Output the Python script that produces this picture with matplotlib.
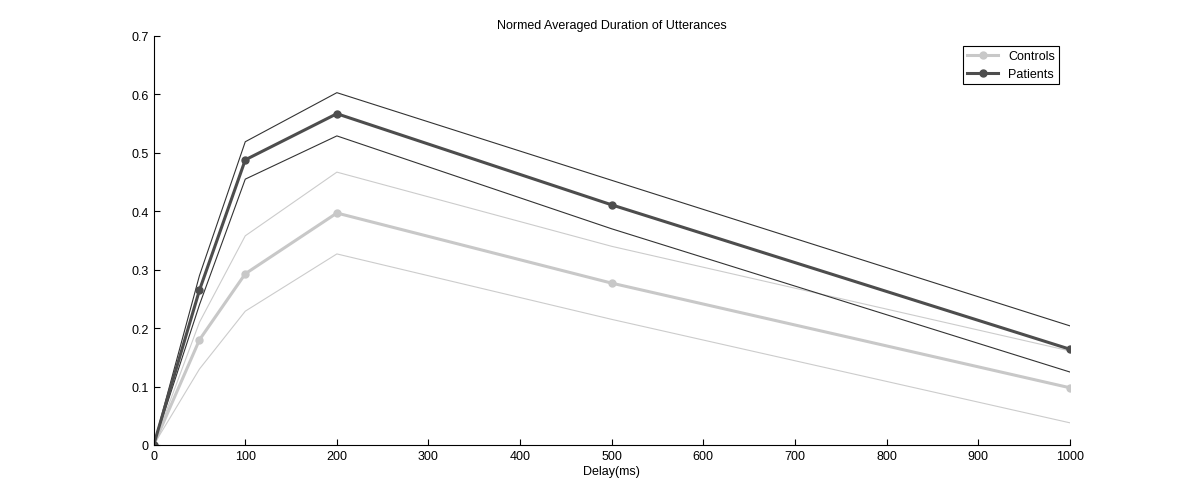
import numpy as np
import matplotlib
matplotlib.use("Agg")
import matplotlib.pyplot as plt

delay = [0, 50, 100, 200, 500, 1000]
controls = [0, 0.18, 0.293, 0.397, 0.277, 0.098]
controls_hi = [0, 0.21, 0.358, 0.467, 0.34, 0.161]
controls_lo = [0, 0.13, 0.229, 0.327, 0.215, 0.038]
patients = [0, 0.265, 0.488, 0.567, 0.411, 0.164]
patients_hi = [0, 0.29, 0.519, 0.603, 0.453, 0.204]
patients_lo = [0, 0.24, 0.455, 0.529, 0.37, 0.125]

plt.rcParams['font.family'] = ['Liberation Sans', 'DejaVu Sans']
fig = plt.figure(figsize=(11.82, 5.02), dpi=100)
ax = fig.add_axes([0.130, 0.1116, 0.775, 0.8147])

ax.plot(delay, controls_hi, color='#cccccc', lw=0.8)
ax.plot(delay, controls_lo, color='#cccccc', lw=0.8)
ax.plot(delay, patients_hi, color='#333333', lw=0.8)
ax.plot(delay, patients_lo, color='#333333', lw=0.8)
ax.plot(delay, controls, color='#c8c8c8', lw=2.2, marker='o', ms=5, label='Controls')
ax.plot(delay, patients, color='#4d4d4d', lw=2.2, marker='o', ms=5, label='Patients')

ax.set_xlim(0, 1000)
ax.set_ylim(0, 0.7)
ax.set_xticks(np.arange(0, 1001, 100))
ax.set_yticks(np.arange(0, 0.71, 0.1))
ax.set_yticklabels(['0', '0.1', '0.2', '0.3', '0.4', '0.5', '0.6', '0.7'])
ax.tick_params(direction='in', labelsize=9, length=4)
ax.spines['top'].set_visible(False)
ax.spines['right'].set_visible(False)
ax.set_xlabel('Delay(ms)', fontsize=9, labelpad=2)
ax.set_title('Normed Averaged Duration of Utterances', fontsize=9)
leg = ax.legend(loc='upper right', fontsize=9, fancybox=False, edgecolor='black',
                framealpha=1, borderpad=0.3, handlelength=2.5, bbox_to_anchor=(0.995, 0.99))
leg.get_frame().set_linewidth(0.8)

fig.savefig('out.png', dpi=100)
